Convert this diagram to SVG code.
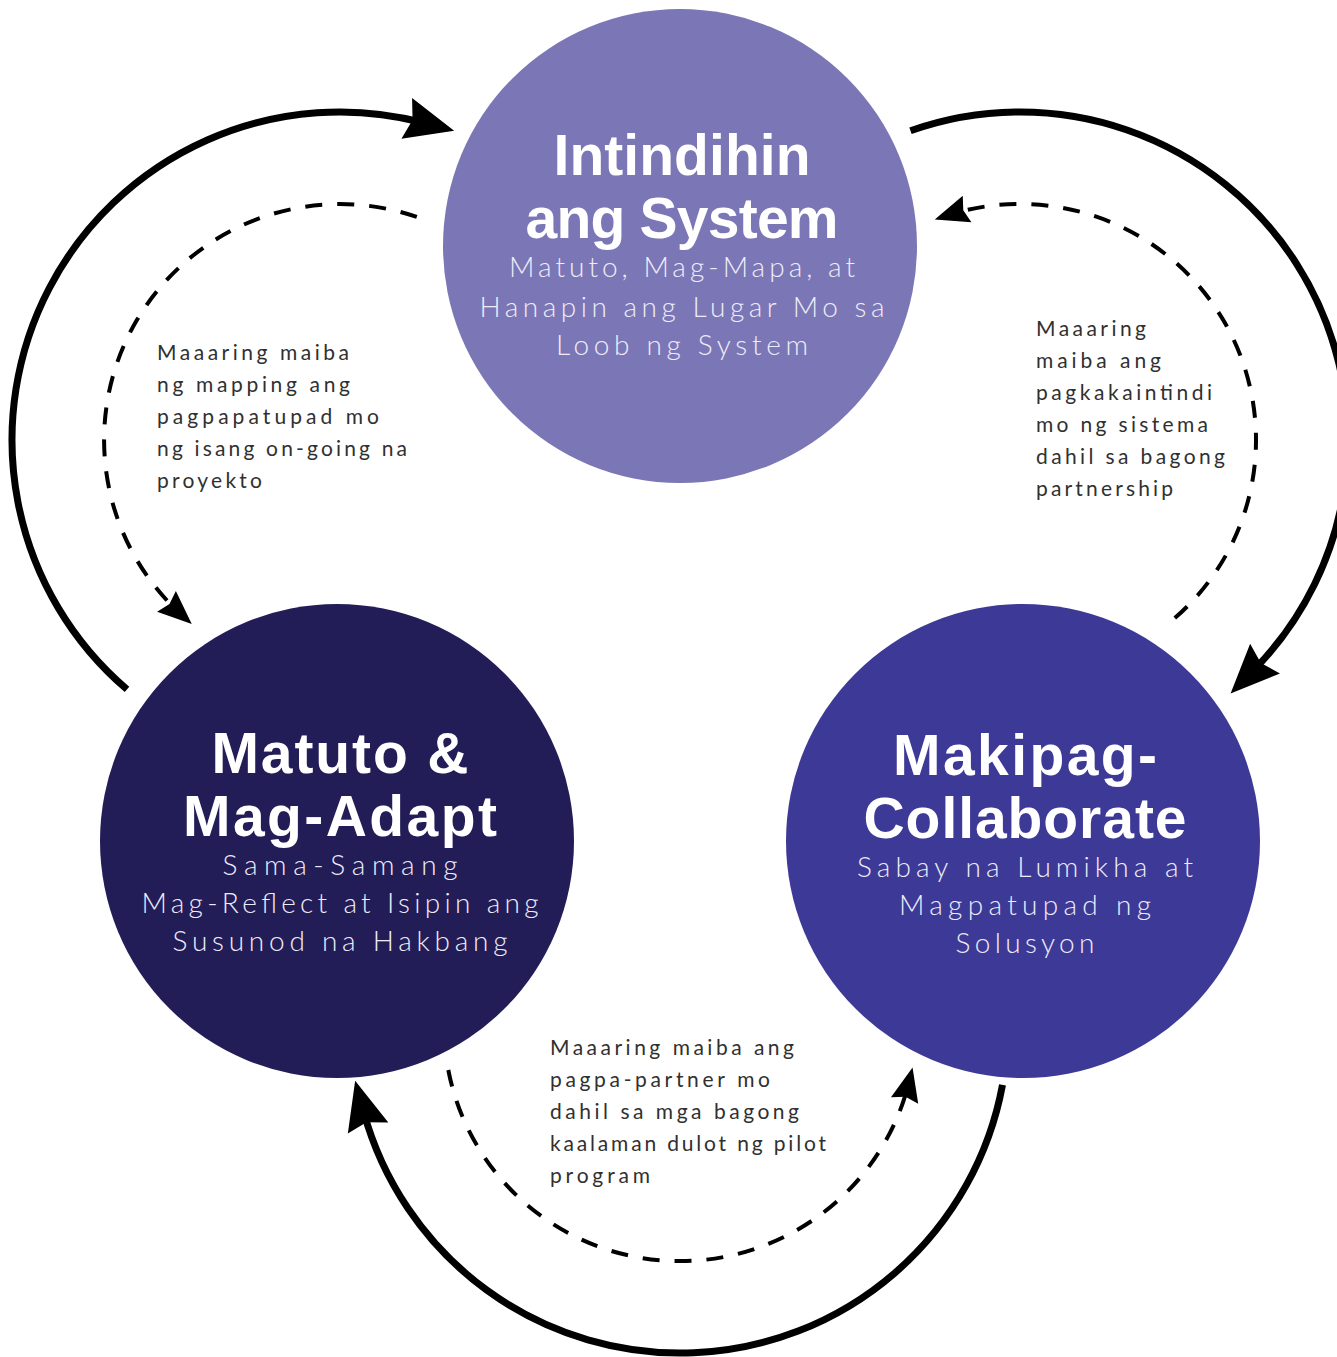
<svg xmlns="http://www.w3.org/2000/svg" width="1337" height="1357" viewBox="0 0 1337 1357">
  <style>
    .title { font-family: "Liberation Sans", Arial, sans-serif; font-weight: 700; font-size: 57px; fill: #ffffff; text-anchor: middle; }
    .sub { font-family: Lato, "Open Sans", "Liberation Sans", sans-serif; font-weight: 300; font-size: 28px; fill: #eeecf8; text-anchor: middle; }
    .note { font-family: Lato, "Open Sans", "Liberation Sans", sans-serif; font-weight: 400; font-size: 21px; fill: #303030; }
    .solid { fill: none; stroke: #000; stroke-width: 7; }
    .dashed { fill: none; stroke: #000; stroke-width: 4; stroke-dasharray: 17 15; }
  </style>
  <defs>
    <marker id="headSolid" markerUnits="userSpaceOnUse" viewBox="-2 -24 54 48" markerWidth="54" markerHeight="48" refX="17" refY="0" orient="auto" overflow="visible">
      <path d="M49,0 L0,-21 L6,0 L0,21 Z" fill="#000"/>
    </marker>
    <marker id="headDashed" markerUnits="userSpaceOnUse" viewBox="-2 -16 38 32" markerWidth="38" markerHeight="32" refX="21" refY="0" orient="auto" overflow="visible">
      <path d="M34,0 L0,-14 L4,0 L0,14 Z" fill="#000"/>
    </marker>
  </defs>

  <rect x="0" y="0" width="1337" height="1357" fill="#ffffff"/>

  <g id="connectors">
    <path class="solid" d="M127.0,689.4 A328,328 0 0 1 423.2,122.7" marker-end="url(#headSolid)"/>
    <path class="solid" d="M910.5,130.8 A328,328 0 0 1 1253.1,670.7" marker-end="url(#headSolid)"/>
    <path class="solid" d="M1002.5,1084.8 A328,328 0 0 1 363.6,1111.6" marker-end="url(#headSolid)"/>
    <path class="dashed" d="M416.8,216.9 A236,236 0 0 0 182.1,615.4" marker-end="url(#headDashed)"/>
    <path class="dashed" d="M1174.8,618.1 A236,236 0 0 0 947.1,215.5" marker-end="url(#headDashed)"/>
    <path class="dashed" d="M448.3,1070 A236,236 0 0 0 909.5,1080.1" marker-end="url(#headDashed)"/>
  </g>

  <g id="node-intindihin">
    <circle cx="680" cy="246" r="237" fill="#7b76b5"/>
    <text class="title"><tspan x="682" y="175" textLength="257">Intindihin</tspan><tspan x="682" y="238" textLength="313">ang System</tspan></text>
    <text class="sub" x="682" y="277" textLength="346">Matuto, Mag-Mapa, at</text>
    <text class="sub" x="682" y="317" textLength="405">Hanapin ang Lugar Mo sa</text>
    <text class="sub" x="682" y="355" textLength="252">Loob ng System</text>
  </g>

  <g id="node-matuto">
    <circle cx="337" cy="841" r="237" fill="#221c57"/>
    <text class="title"><tspan x="340" y="773" textLength="257">Matuto &amp;</tspan><tspan x="340" y="836" textLength="314">Mag-Adapt</tspan></text>
    <text class="sub" x="340" y="875" textLength="235">Sama-Samang</text>
    <text class="sub" x="340" y="913" textLength="397">Mag-Reflect at Isipin ang</text>
    <text class="sub" x="340" y="951" textLength="335">Susunod na Hakbang</text>
  </g>

  <g id="node-makipag">
    <circle cx="1023" cy="841" r="237" fill="#3d3996"/>
    <text class="title"><tspan x="1025" y="775" textLength="264">Makipag-</tspan><tspan x="1025" y="838" textLength="323">Collaborate</tspan></text>
    <text class="sub" x="1025" y="877" textLength="336">Sabay na Lumikha at</text>
    <text class="sub" x="1025" y="915" textLength="252">Magpatupad ng</text>
    <text class="sub" x="1025" y="953" textLength="139">Solusyon</text>
  </g>

  <g id="connector-labels">
    <g id="label-left">
      <text class="note" x="157" y="360" textLength="192">Maaaring maiba</text>
      <text class="note" x="157" y="392" textLength="193">ng mapping ang</text>
      <text class="note" x="157" y="424" textLength="222">pagpapatupad mo</text>
      <text class="note" x="157" y="456" textLength="250">ng isang on-going na</text>
      <text class="note" x="157" y="488" textLength="105">proyekto</text>
    </g>
    <g id="label-right">
      <text class="note" x="1036" y="336" textLength="110">Maaaring</text>
      <text class="note" x="1036" y="368" textLength="125">maiba ang</text>
      <text class="note" x="1036" y="400" textLength="176">pagkakaintindi</text>
      <text class="note" x="1036" y="432" textLength="172">mo ng sistema</text>
      <text class="note" x="1036" y="464" textLength="189">dahil sa bagong</text>
      <text class="note" x="1036" y="496" textLength="137">partnership</text>
    </g>
    <g id="label-bottom">
      <text class="note" x="550" y="1055" textLength="244">Maaaring maiba ang</text>
      <text class="note" x="550" y="1087" textLength="220">pagpa-partner mo</text>
      <text class="note" x="550" y="1119" textLength="249">dahil sa mga bagong</text>
      <text class="note" x="550" y="1151" textLength="276">kaalaman dulot ng pilot</text>
      <text class="note" x="550" y="1183" textLength="100">program</text>
    </g>
  </g>
</svg>
